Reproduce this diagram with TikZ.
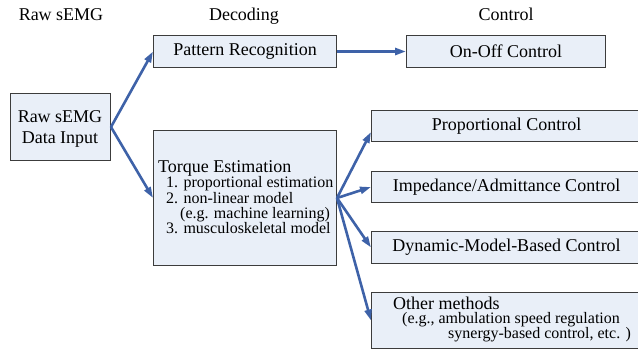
\documentclass[tikz,border=0pt]{standalone}
\usepackage{fontspec}
\setmainfont{Liberation Serif}
\usetikzlibrary{arrows.meta}
\definecolor{boxfill}{RGB}{233,239,248}
\definecolor{arrowblue}{RGB}{62,98,168}
\definecolor{boxline}{RGB}{60,60,60}
\begin{document}
\begin{tikzpicture}[x=1pt,y=-1pt,
  box/.style={draw=boxline, fill=boxfill, line width=1pt, inner sep=0pt, anchor=north west},
  big/.style={font=\fontsize{18}{21}\selectfont, inner sep=0pt},
  small/.style={font=\fontsize{16}{16}\selectfont, inner sep=0pt, anchor=base west},
  arr/.style={draw=arrowblue, line width=2.6pt, -{Triangle[length=11pt,width=7pt]}}]
\clip (0,0) rectangle (638,351);
\fill[white] (0,0) rectangle (638,351);
% headers
\node[big, anchor=base] (h1) at (61,20) {Raw sEMG};
\node[big, anchor=base] (h2) at (244,20) {Decoding};
\node[big, anchor=base] (h3) at (506,20) {Control};
% boxes
\node[box, minimum width=100pt, minimum height=67pt] (raw) at (10,93) {};
\node[big, anchor=base] (rawt1) at (60,122) {Raw sEMG};
\node[big, anchor=base] (rawt2) at (60,143) {Data Input};
\node[box, big, minimum width=183pt, minimum height=32pt] (pat) at (153,35) {Pattern Recognition};
\node[box, big, minimum width=199pt, minimum height=32pt] (onoff) at (406,35) {On-Off Control};
\node[box, minimum width=183pt, minimum height=135pt] (torq) at (153,130) {};
\node[big, anchor=base west] (tq0) at (158,172) {Torque Estimation};
\node[small] (tq1) at (166,187.5) {1. proportional estimation};
\node[small] (tq2) at (166,203) {2. non-linear model};
\node[small] (tq3) at (180,218) {(e.g. machine learning)};
\node[small] (tq4) at (166,233.5) {3. musculoskeletal model};
\node[box, big, minimum width=270pt, minimum height=31pt] (prop) at (371,110) {Proportional Control};
\node[box, big, minimum width=270pt, minimum height=31pt] (imp) at (371,171) {Impedance/Admittance Control};
\node[box, big, minimum width=270pt, minimum height=32pt] (dyn) at (371,231) {Dynamic-Model-Based Control};
\node[box, minimum width=270pt, minimum height=56pt] (oth) at (371,292) {};
\node[big, anchor=base west] (ot1) at (393,309) {Other methods};
\node[small] (ot2) at (402,323) {(e.g., ambulation speed regulation};
\node[small] (ot3) at (448,338) {synergy-based control, etc. )};
% connectors
\draw[arr] (raw.east) -- (pat.west);
\draw[arr] (raw.east) -- (torq.west);
\draw[arr] (pat.east) -- (onoff.west);
\draw[arr] (torq.east) -- ([yshift=-6pt]prop.west);
\draw[arr] (torq.east) -- (imp.west);
\draw[arr] (torq.east) -- (dyn.west);
\draw[arr] (torq.east) -- (oth.west);
\end{tikzpicture}
\end{document}
